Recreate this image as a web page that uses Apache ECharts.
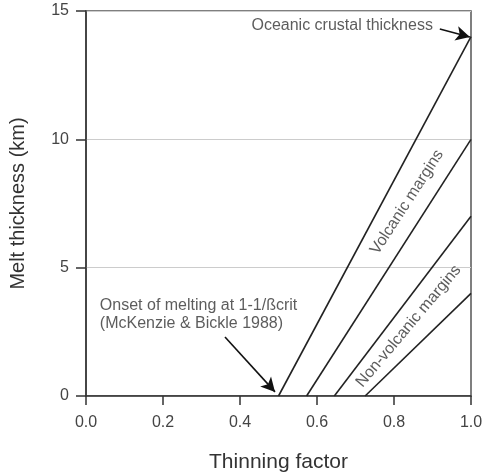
<!DOCTYPE html>
<html><head><meta charset="utf-8">
<script src="https://cdn.jsdelivr.net/npm/echarts@6/dist/echarts.min.js"></script>
<style>html,body{margin:0;padding:0;background:#fff}#c{width:483px;height:476px}</style>
</head><body><div id="c"></div>
<script>
// Data
var xTicks = [0, 0.2, 0.4, 0.6, 0.8, 1.0];
var yTicks = [0, 5, 10, 15];
var lineNames = ['Oceanic crust', 'Volcanic upper', 'Volcanic lower / Non-volcanic upper', 'Non-volcanic lower'];
var lineStartX = [0.5, 0.573, 0.645, 0.725];   // thinning factor where melting starts (thickness 0)
var lineEndY = [14, 10, 7, 4];                 // melt thickness at thinning factor 1.0
var labelTexts = ['Oceanic crustal thickness', 'Onset of melting at 1-1/ßcrit\n(McKenzie & Bickle 1988)', 'Volcanic margins', 'Non-volcanic margins'];
var labelAnchors = [[0.901, 14.45], [0.036, 3.18], [0.834, 7.55], [0.838, 2.72]];
var labelRotate = [0, 0, 57, 50];
var arrows = [[[0.919, 14.3], [0.997, 13.99]], [[0.361, 2.30], [0.491, 0.16]]];

var font = 'Liberation Sans, Arial, Helvetica, sans-serif';
var textColor = '#333';

var series = [];
for (var i = 0; i < lineStartX.length; i++) {
  series.push({
    name: lineNames[i], type: 'line', symbol: 'none', silent: true,
    lineStyle: { color: '#222', width: 1.6 },
    data: [[lineStartX[i], 0], [1.0, lineEndY[i]]],
    z: 3
  });
}
var labelData = labelTexts.map(function (t, i) {
  return {
    value: labelAnchors[i],
    label: {
      show: true, formatter: t, rotate: labelRotate[i],
      align: i === 0 ? 'right' : (i === 1 ? 'left' : 'center'),
      verticalAlign: 'middle', position: 'inside',
      fontSize: 16, lineHeight: 17.5, color: textColor, fontFamily: font
    }
  };
});
series.push({
  type: 'scatter', symbolSize: 0, silent: true, data: labelData, z: 5,
  markLine: {
    silent: true, symbol: ['none', 'arrow'], symbolSize: [11, 14],
    lineStyle: { color: '#111', width: 1.6, type: 'solid' },
    label: { show: false },
    data: arrows.map(function (a) { return [{ coord: a[0] }, { coord: a[1] }]; })
  }
});

var chart = echarts.init(document.getElementById('c'), null, { renderer: 'canvas' });
chart.setOption({
  animation: false,
  backgroundColor: '#fff',
  grid: { left: 86, right: 12, top: 11, bottom: 80, containLabel: false, outerBoundsMode: 'none',
          show: true, borderColor: '#555', borderWidth: 1.5 },
  xAxis: {
    type: 'value', min: 0, max: 1, interval: 0.2,
    name: 'Thinning factor', nameLocation: 'middle', nameGap: 56,
    nameTextStyle: { fontSize: 21, color: textColor, fontFamily: font },
    axisLine: { show: true, lineStyle: { color: '#333', width: 1.5 } },
    axisTick: { show: true, inside: false, length: 9, lineStyle: { color: '#333', width: 1.5 } },
    axisLabel: { margin: 19, fontSize: 16, color: '#444', fontFamily: font, formatter: function (v) { return v.toFixed(1); } },
    splitLine: { show: false }
  },
  yAxis: {
    type: 'value', min: 0, max: 15, interval: 5,
    name: 'Melt thickness (km)', nameLocation: 'middle', nameGap: 58,
    nameTextStyle: { fontSize: 20, color: textColor, fontFamily: font },
    axisLine: { show: true, lineStyle: { color: '#333', width: 1.5 } },
    axisTick: { show: true, inside: false, length: 10, lineStyle: { color: '#333', width: 1.5 } },
    axisLabel: { margin: 17, fontSize: 16, color: '#444', fontFamily: font },
    splitLine: { show: true, lineStyle: { color: '#ccc', width: 1.2 } }
  },
  series: series
});
</script></body></html>
